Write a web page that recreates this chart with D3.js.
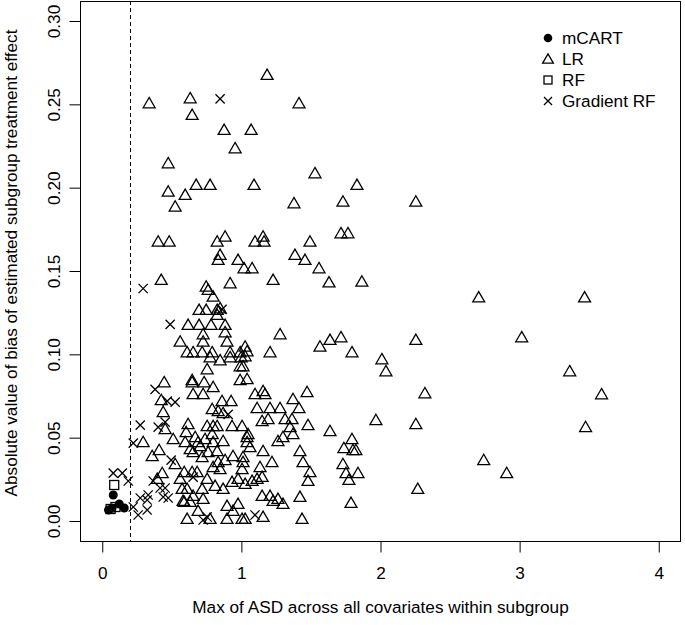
<!DOCTYPE html>
<html>
<head>
<meta charset="utf-8">
<script src="https://cdn.jsdelivr.net/npm/d3@7"></script>
<style>
html,body{margin:0;padding:0;background:#fff;}
svg{display:block;font-family:"Liberation Sans",Arial,Helvetica,sans-serif;}
</style>
</head>
<body>
<svg id="chart" width="685" height="625"></svg>
<script>
// ---- data ----
const seriesNames = ["mCART", "LR", "RF", "Gradient RF"];
const xTicks = [0, 1, 2, 3, 4];
const yTicks = [0.00, 0.05, 0.10, 0.15, 0.20, 0.25, 0.30];
const yTickLabels = ["0.00", "0.05", "0.10", "0.15", "0.20", "0.25", "0.30"];
const cutoffASD = 0.2;
const xTitle = "Max of ASD across all covariates within subgroup";
const yTitle = "Absolute value of bias of estimated subgroup treatment effect";

const mcartPoints = [
  [0.079,0.0156],[0.070,0.0076],[0.122,0.0102],[0.158,0.0078],[0.045,0.0066]
];
const rfPoints = [
  [0.086,0.0216],[0.060,0.0072],[0.095,0.0084]
];
const gradientRfPoints = [
  [0.847,0.2533],[0.294,0.1395],[0.861,0.127],[0.488,0.118],[0.380,0.079],
  [0.467,0.0719],[0.524,0.0713],[0.273,0.0575],[0.402,0.0563],[0.452,0.0593],
  [0.223,0.0467],[0.495,0.0365],[0.079,0.0287],[0.144,0.0287],[0.187,0.024],
  [0.905,0.064],[0.653,0.0263],[0.452,0.0198],[0.474,0.0138],[0.754,0.0024],
  [0.725,0.0006],[1.098,0.0036],[0.366,0.024],[0.416,0.0198],[0.438,0.0144],
  [0.223,0.0084],[0.273,0.0138],[0.323,0.0126],[0.330,0.0156],[0.258,0.0036],
  [0.323,0.0066]
];
const lrPoints = [
  [1.185,0.267],[0.337,0.250],[0.632,0.253],[0.646,0.243],[1.414,0.250],
  [0.876,0.234],[1.070,0.234],[0.955,0.223],[0.474,0.214],[1.529,0.208],
  [0.474,0.197],[0.596,0.195],[0.675,0.201],[0.775,0.201],[1.091,0.201],
  [0.524,0.188],[1.378,0.190],[0.402,0.167],[0.481,0.167],[0.826,0.167],
  [0.883,0.170],[1.098,0.167],[1.156,0.170],[1.163,0.167],[1.493,0.167],
  [0.847,0.159],[0.833,0.156],[0.976,0.156],[1.019,0.151],[1.077,0.151],
  [1.385,0.159],[1.457,0.156],[1.558,0.151],[0.424,0.144],[0.919,0.142],
  [1.228,0.144],[0.747,0.140],[0.761,0.138],[0.797,0.134],[0.696,0.126],
  [0.747,0.126],[0.826,0.126],[0.847,0.127],[0.826,0.123],[0.617,0.117],
  [0.696,0.117],[0.782,0.117],[0.883,0.117],
  [1.831,0.201],[1.730,0.191],[2.254,0.191],[1.716,0.172],[1.766,0.172],
  [1.630,0.1425],[1.866,0.143],[2.706,0.1335],[3.467,0.1335],[1.637,0.108],
  [1.716,0.1096],[1.565,0.104],[2.254,0.108],[3.015,0.1096],[1.795,0.1006],
  [2.010,0.0964],[2.039,0.0892],[3.360,0.0892],[2.319,0.076],[3.589,0.0754],
  [1.967,0.0599],[2.254,0.0575],[1.637,0.0533],[3.474,0.0557],[1.795,0.0485],
  [1.737,0.0431],[1.802,0.0419],[1.823,0.0419],[2.742,0.0359],[1.730,0.0335],
  [1.752,0.0281],[1.838,0.0281],[1.773,0.024],[2.907,0.0281],[2.268,0.0186],
  [1.788,0.0102],
  [0.560,0.107],[0.610,0.1006],[0.445,0.0826],[0.424,0.0719],[0.438,0.0647],
  [0.653,0.0755],[0.646,0.0826],[0.452,0.0545],[0.617,0.0575],[0.603,0.0527],
  [0.668,0.0497],[0.294,0.0467],[0.510,0.0485],[0.359,0.0383],[0.409,0.0419],
  [0.524,0.0335],[0.589,0.0287],[0.646,0.0287],[0.431,0.0281],[0.395,0.0246],
  [0.560,0.0246],[0.574,0.0186],[0.610,0.0186],[0.589,0.0108],[0.610,0.0006],
  [0.725,0.1114],[0.883,0.1126],[0.725,0.107],[0.897,0.107],[0.653,0.1006],
  [0.718,0.1006],[0.790,0.1006],[0.919,0.1006],[0.991,0.1006],[1.041,0.1012],
  [0.775,0.0976],[0.847,0.0958],[0.919,0.0976],[0.998,0.0976],[0.991,0.0922],
  [0.754,0.0904],[0.646,0.0839],[0.732,0.0826],[0.797,0.0797],[0.991,0.0839],
  [1.041,0.0845],[0.725,0.0755],[0.861,0.0713],[0.926,0.0713],[0.790,0.0665],
  [0.833,0.0653],[0.869,0.0641],[0.754,0.0563],[0.797,0.0563],[0.933,0.0563],
  [1.005,0.0563],
  [1.278,0.1114],[1.027,0.104],[1.206,0.1006],[1.027,0.0982],[1.012,0.0922],
  [1.098,0.0755],[1.156,0.0773],[1.170,0.0755],[1.371,0.0725],[1.472,0.0767],
  [1.113,0.0671],[1.206,0.0671],[1.278,0.0671],[1.414,0.0671],[1.149,0.0593],
  [1.192,0.0605],[1.314,0.0605],[1.364,0.0605],[1.479,0.0569],
  [0.826,0.0563],[0.596,0.0467],[0.689,0.0467],[0.739,0.0485],[0.790,0.0515],
  [0.797,0.0467],[0.869,0.0473],[1.041,0.0497],[0.632,0.0425],[0.704,0.0443],
  [0.653,0.0407],[0.718,0.0377],[0.761,0.0407],[0.826,0.0413],[0.833,0.0347],
  [0.883,0.0359],[0.940,0.0383],[1.012,0.0377],[0.797,0.0317],[0.847,0.0305],
  [1.005,0.0305],[0.682,0.0287],[0.754,0.0246],[0.811,0.0204],[0.869,0.0186],
  [0.933,0.0228],[0.976,0.0246],[1.027,0.0216],[0.718,0.0186],[0.653,0.0144],
  [0.581,0.0114],[0.632,0.0108],[0.725,0.0126],[0.897,0.0084],[0.976,0.0096],
  [0.689,0.0054],[0.940,0.0054],[0.775,0.0006],[0.897,0.0006],[1.005,0.0006],
  [1.350,0.0557],[1.371,0.0515],[1.048,0.0515],[1.041,0.0467],[1.062,0.0437],
  [1.263,0.0473],[1.299,0.0497],[1.156,0.0413],[1.421,0.0413],[1.012,0.0347],
  [1.134,0.0317],[1.220,0.0347],[1.443,0.0347],[1.493,0.0287],[1.479,0.0234],
  [1.077,0.0234],[1.113,0.0246],[1.149,0.0258],[1.149,0.0144],[1.206,0.0144],
  [1.228,0.0114],[1.263,0.0126],[1.299,0.0096],[1.421,0.0138],[1.027,0.0006],
  [1.156,0.0018],[1.436,0.0006]
];

// ---- layout ----
const svg = d3.select("#chart");
const plot = {left: 80, right: 681, top: 1, bottom: 541};
const x = d3.scaleLinear().domain([-0.16, 4.16]).range([plot.left, plot.right]);
const y = d3.scaleLinear().domain([-0.012, 0.312]).range([plot.bottom, plot.top]);
const fontSize = 17.2;

svg.append("defs").append("clipPath").attr("id","clip")
  .append("rect").attr("x",plot.left).attr("y",plot.top)
  .attr("width",plot.right-plot.left).attr("height",plot.bottom-plot.top);

// axes
const xAxis = d3.axisBottom(x).tickValues(xTicks).tickFormat(d3.format("d")).tickSize(11).tickPadding(14);
const gx = svg.append("g").attr("transform",`translate(0,${plot.bottom+0.5})`).call(xAxis);
gx.select(".domain").attr("d", `M${x(0)},0H${x(4)}`).attr("stroke","#000");
gx.selectAll(".tick line").attr("stroke","#000");
gx.selectAll(".tick text").attr("font-size",fontSize).attr("fill","#000")
  .attr("font-family","Liberation Sans, Arial, sans-serif");

const yAxis = d3.axisLeft(y).tickValues(yTicks).tickFormat((d,i)=>yTickLabels[i]).tickSize(11);
const gy = svg.append("g").attr("transform",`translate(${plot.left+0.5},0)`).call(yAxis);
gy.select(".domain").attr("d", `M0,${y(0)}V${y(0.3)}`).attr("stroke","#000");
gy.selectAll(".tick line").attr("stroke","#000");
gy.selectAll(".tick text").attr("font-size",fontSize).attr("fill","#000")
  .attr("font-family","Liberation Sans, Arial, sans-serif")
  .attr("text-anchor","middle").attr("x",null)
  .attr("transform","translate(-16,0) rotate(-90)").attr("dy","-0.25em");

// box
svg.append("rect").attr("x",plot.left+0.5).attr("y",plot.top+0.5)
  .attr("width",plot.right-plot.left-1).attr("height",plot.bottom-plot.top)
  .attr("fill","none").attr("stroke","#000").attr("stroke-width",1);

// titles
svg.append("text").attr("x",(plot.left+plot.right)/2).attr("y",613)
  .attr("text-anchor","middle").attr("font-size",fontSize).text(xTitle);
svg.append("text").attr("transform",`translate(17,${(plot.top+plot.bottom)/2 - 8}) rotate(-90)`)
  .attr("text-anchor","middle").attr("font-size",fontSize).text(yTitle);

// cutoff line
svg.append("line").attr("x1",Math.round(x(cutoffASD))+0.5).attr("x2",Math.round(x(cutoffASD))+0.5)
  .attr("y1",plot.top).attr("y2",plot.bottom)
  .attr("stroke","#000").attr("stroke-dasharray","4,3").attr("stroke-width",1);

// symbols
const triR = 6.9;
function triPath(r){ const h=r*Math.sqrt(3)/2; return `M0,${-r}L${h},${r/2}L${-h},${r/2}Z`; }
function crossPath(s){ return `M${-s},${-s}L${s},${s}M${-s},${s}L${s},${-s}`; }
const g = svg.append("g").attr("clip-path","url(#clip)");

g.selectAll(".lr").data(lrPoints).join("path").attr("class","lr")
  .attr("transform",d=>`translate(${x(d[0])},${y(d[1])})`)
  .attr("d",triPath(triR)).attr("fill","none").attr("stroke","#000").attr("stroke-width",1.3);
g.selectAll(".rf").data(rfPoints).join("rect").attr("class","rf")
  .attr("x",d=>x(d[0])-4.5).attr("y",d=>y(d[1])-4.5).attr("width",9).attr("height",9)
  .attr("fill","none").attr("stroke","#000").attr("stroke-width",1.3);
g.selectAll(".grf").data(gradientRfPoints).join("path").attr("class","grf")
  .attr("transform",d=>`translate(${x(d[0])},${y(d[1])})`)
  .attr("d",crossPath(4.6)).attr("fill","none").attr("stroke","#000").attr("stroke-width",1.3);
g.selectAll(".mc").data(mcartPoints).join("circle").attr("class","mc")
  .attr("cx",d=>x(d[0])).attr("cy",d=>y(d[1])).attr("r",4.5).attr("fill","#000");

// legend
const legX = 548, legTextX = 562, legY0 = 38, legDy = 21;
const leg = svg.append("g");
seriesNames.forEach((name,i)=>{
  const cy = legY0 + i*legDy;
  if(i===0) leg.append("circle").attr("cx",legX).attr("cy",cy).attr("r",4.3).attr("fill","#000");
  if(i===1) leg.append("path").attr("transform",`translate(${legX},${cy+1})`).attr("d",triPath(6.2)).attr("fill","none").attr("stroke","#000").attr("stroke-width",1.3);
  if(i===2) leg.append("rect").attr("x",legX-4).attr("y",cy-4).attr("width",8).attr("height",8).attr("fill","none").attr("stroke","#000").attr("stroke-width",1.3);
  if(i===3) leg.append("path").attr("transform",`translate(${legX},${cy})`).attr("d",crossPath(4)).attr("fill","none").attr("stroke","#000").attr("stroke-width",1.3);
  leg.append("text").attr("x",legTextX).attr("y",cy).attr("dy","0.35em")
    .attr("font-size",fontSize).text(name);
});
</script>
</body>
</html>
